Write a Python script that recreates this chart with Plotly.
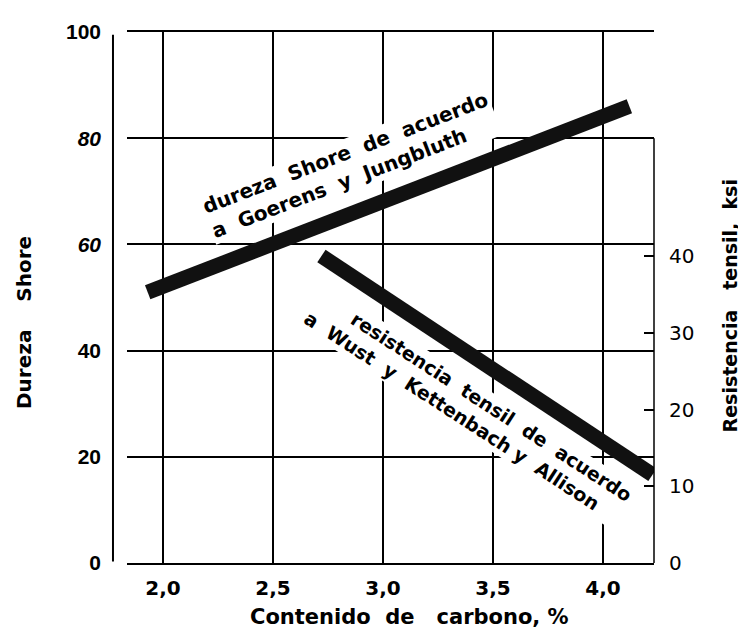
import plotly.graph_objects as go

# ---- data ----
carbon_ticks = [2.0, 2.5, 3.0, 3.5, 4.0]
carbon_labels = ["2,0", "2,5", "3,0", "3,5", "4,0"]
shore_ticks = [0, 20, 40, 60, 80, 100]
shore_labels = ["<b>0</b>", "<b>20</b>", "<b>40</b>", "<b><i>60</i></b>", "<b><i>80</i></b>", "<b>100</b>"]
ksi_ticks = [0, 10, 20, 30, 40]
ksi_labels = ["0", "10", "20", "30", "40"]

# Shore hardness band (Goerens & Jungbluth)
carbon_shore = [1.93, 4.12]
shore_hardness = [51, 86]
# Tensile strength band (Wust, Kettenbach & Allison)
carbon_tensile = [2.72, 4.225]
tensile_ksi = [40, 11.5]

ROUND = "DejaVu Sans"
ARIAL = "Liberation Sans"

fig = go.Figure()
fig.add_trace(go.Scatter(x=carbon_shore, y=shore_hardness, mode="lines",
                         line=dict(color="#111111", width=15),
                         yaxis="y", showlegend=False, hoverinfo="skip"))
fig.add_trace(go.Scatter(x=carbon_tensile, y=tensile_ksi, mode="lines",
                         line=dict(color="#111111", width=15),
                         yaxis="y2", showlegend=False, hoverinfo="skip"))

fig.update_layout(
    width=746, height=632, autosize=False,
    margin=dict(l=119, r=100, t=22, b=77),
    paper_bgcolor="white", plot_bgcolor="white",
    xaxis=dict(range=[1.836, 4.232], tickvals=carbon_ticks, ticktext=carbon_labels,
               showgrid=True, gridcolor="black", gridwidth=1.5,
               showline=True, mirror=True, linecolor="black", linewidth=1.5,
               zeroline=False, ticks="", ticklabelstandoff=6,
               tickfont=dict(family=ROUND, size=20, color="black", weight="bold")),
    yaxis=dict(range=[0, 100], tickvals=shore_ticks, ticktext=shore_labels,
               showgrid=True, gridcolor="black", gridwidth=1.5,
               showline=False, zeroline=False, ticks="", ticklabelstandoff=25,
               tickfont=dict(family=ARIAL, size=21, color="black")),
    yaxis2=dict(range=[0, 69.2], overlaying="y", side="right",
                tickvals=ksi_ticks, ticktext=ksi_labels,
                showgrid=False, zeroline=False, showline=False,
                ticks="inside", ticklen=10, tickwidth=1.5, tickcolor="black",
                ticklabelstandoff=14,
                tickfont=dict(family=ROUND, size=20, color="black")),
    shapes=[
        dict(type="line", xref="paper", yref="y", x0=-0.0266, x1=-0.0266, y0=0.3, y1=99.5,
             line=dict(color="black", width=2)),
        dict(type="line", xref="paper", yref="y", x0=1, x1=1, y0=0, y1=80,
             line=dict(color="black", width=1.5)),
    ],
    annotations=[
        dict(text="Dureza    Shore", xref="paper", yref="paper", x=-0.1954, y=0.452,
             xanchor="center", yanchor="middle",
             textangle=-90, showarrow=False,
             font=dict(family=ROUND, size=20, color="black", weight="bold")),
        dict(text="Resistencia   tensil,  ksi", xref="paper", yref="paper", x=1.145, y=0.484,
             xanchor="center", yanchor="middle",
             textangle=-90, showarrow=False,
             font=dict(family=ROUND, size=19, color="black", weight="bold")),
        dict(text="Contenido  de   carbono, %", xref="paper", yref="paper", x=0.536, y=-0.101,
             xanchor="center", yanchor="middle", showarrow=False,
             font=dict(family=ROUND, size=21, color="black", weight="bold")),
        dict(text="dureza  Shore  de  acuerdo<br>a  Goerens  y  Jungbluth",
             xref="x", yref="y", x=2.85, y=75.0, textangle=-21, showarrow=False,
             xanchor="center", yanchor="middle",
             align="left", bgcolor="white", borderpad=1,
             font=dict(family=ROUND, size=20, color="black", weight="bold")),
        dict(text="      resistencia  tensil  de  acuerdo<br>a  Wust  y  Kettenbach y  Allison",
             xref="x", yref="y", x=3.386, y=29.4, textangle=33, showarrow=False,
             xanchor="center", yanchor="middle",
             align="left", bgcolor="white", borderpad=1,
             font=dict(family=ROUND, size=19, color="black", weight="bold")),
    ],
)

fig.write_html("out.html")
